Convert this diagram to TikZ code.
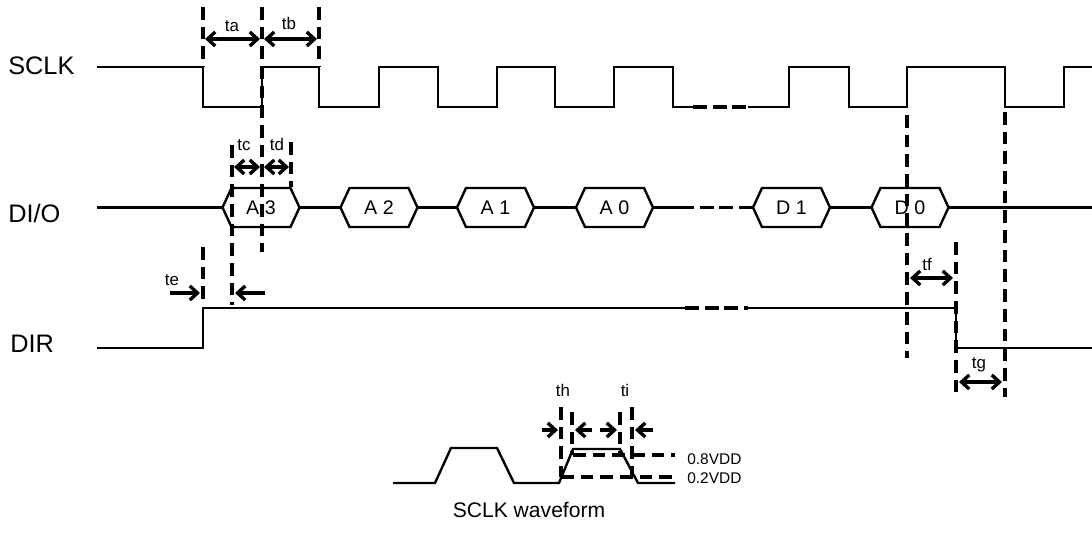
\documentclass[tikz,border=0pt]{standalone}
\usepackage{fontspec}
\setmainfont{Liberation Sans}
\usetikzlibrary{arrows.meta}

\begin{document}
\begin{tikzpicture}[
        x=0.025cm, y=-0.025cm,
        >={Straight Barb[length=5.5pt, width=10pt]},
        % Styles
        wave/.style={line width=1.7pt},
        guide/.style={line width=2.3pt, dash pattern=on 9pt off 5pt},
        gap/.style={line width=2.3pt, dash pattern=on 10pt off 4pt},
        timing/.style={line width=2.4pt},
        signame/.style={anchor=west, inner sep=0pt, font=\fontsize{18}{20}\selectfont},
        tlabel/.style={inner sep=0pt, font=\fontsize{12}{14}\selectfont},
        level/.style={anchor=west, inner sep=0pt, font=\fontsize{11}{13}\selectfont},
        hextext/.style={inner sep=0pt, font=\fontsize{14}{16}\selectfont},
        hexdata/.pic={
            \draw[wave] (-38.5,0) coordinate (-w) -- (-29.5,-19.5) -- (29.5,-19.5)
                -- (38.5,0) coordinate (-e) -- (29.5,19.5) -- (-29.5,19.5) -- cycle;
            \node[hextext] (-txt) {#1};
        }
    ]
    \useasboundingbox (0,0) rectangle (1092,537);

    % --- SIGNAL NAMES ---
    \node (sclk) [signame] at (8,66) {SCLK};
    \node (dio) [signame] at (8,213) {DI/O};
    \node (dir) [signame] at (10,344) {DIR};

    % --- SCLK ---
    \draw [wave] (97,67) -- (203,67) -- (203,107) -- (262,107) -- (262,67) -- (319,67)
        -- (319,107) -- (379,107) -- (379,67) -- (438,67) -- (438,107) -- (497,107)
        -- (497,67) -- (555,67) -- (555,107) -- (614,107) -- (614,67) -- (673,67)
        -- (673,107) -- (693,107);
    \draw [gap] (693,107) -- (748,107);   % skipped clocks
    \draw [wave] (748,107) -- (789,107) -- (789,67) -- (849,67) -- (849,107) -- (907,107)
        -- (907,67) -- (1005,67) -- (1005,107) -- (1064,107) -- (1064,67) -- (1092,67);

    % --- DI/O: data cells ---
    \pic (a3) at (261,207.5) {hexdata={A 3}};
    \pic (a2) at (379,207.5) {hexdata={A 2}};
    \pic (a1) at (495.5,207.5) {hexdata={A 1}};
    \pic (a0) at (614.5,207.5) {hexdata={A 0}};
    \pic (d1) at (791.5,207.5) {hexdata={D 1}};
    \pic (d0) at (910,207.5) {hexdata={D 0}};

    \draw [wave] (97,207.5) -- (a3-w);
    \draw [wave] (a3-e) -- (a2-w);
    \draw [wave] (a2-e) -- (a1-w);
    \draw [wave] (a1-e) -- (a0-w);
    \draw [wave] (a0-e) -- (680,207.5);
    \draw [gap] (680,207.5) -- (747,207.5);
    \draw [wave] (747,207.5) -- (d1-w);
    \draw [wave] (d1-e) -- (d0-w);
    \draw [wave] (d0-e) -- (1092,207.5);

    % --- DIR ---
    \draw [wave] (97,348) -- (203,348) -- (203,308) -- (685,308);
    \draw [gap] (685,308) -- (748,308);
    \draw [wave] (748,308) -- (956,308) -- (956,348) -- (1092,348);

    % --- GUIDE LINES ---
    \draw [guide] (203,7) -- (203,67);
    \draw [guide] (262,7) -- (262,252);
    \draw [guide] (319,7) -- (319,67);
    \draw [guide] (232,145) -- (232,305);
    \draw [guide] (291,142) -- (291,187);
    \draw [guide] (203,247) -- (203,303);
    \draw [guide] (907,115) -- (907,358);
    \draw [guide] (956,242) -- (956,398);
    \draw [guide] (1005,112) -- (1005,397);

    % --- TIMINGS ---
    \draw [timing, <->] (205,39) -- (260,39);
    \node (ta) [tlabel] at (232,26) {ta};
    \draw [timing, <->] (264,39) -- (317,39);
    \node (tb) [tlabel] at (289,23) {tb};
    \draw [timing, <->] (234,167) -- (260,167);
    \node (tc) [tlabel] at (244,145) {tc};
    \draw [timing, <->] (264,167) -- (289,167);
    \node (td) [tlabel] at (277,144) {td};
    \draw [timing, ->] (170,293) -- (200,293);
    \draw [timing, ->] (265,293) -- (235,293);
    \node (te) [tlabel] at (172,280) {te};
    \draw [timing, <->] (910,278) -- (953,278);
    \node (tf) [tlabel] at (927,264) {tf};
    \draw [timing, <->] (959,382) -- (1002,382);
    \node (tg) [tlabel] at (979,365) {tg};

    % --- SCLK WAVEFORM (edges) ---
    \draw [wave] (393,483) -- (435,483) -- (451,448) -- (497,448) -- (514,483)
        -- (559,483) -- (573,449) -- (620,449) -- (638,483) -- (675,483);
    \draw [guide] (573,455) -- (675,455);
    \draw [guide] (561,477) -- (675,477);
    \node (hi) [level] at (687,459) {0.8VDD};
    \node (lo) [level] at (687,478) {0.2VDD};

    \draw [guide] (561,407) -- (561,477);
    \draw [guide] (572,412) -- (572,455);
    \draw [guide] (620,412) -- (620,455);
    \draw [guide] (632,407) -- (632,477);
    \draw [timing, ->] (542,430) -- (558,430);
    \draw [timing, ->] (592,430) -- (575,430);
    \draw [timing, ->] (600,430) -- (617,430);
    \draw [timing, ->] (653,430) -- (635,430);
    \node (th) [tlabel] at (563,390) {th};
    \node (ti) [tlabel] at (625,390) {ti};

    \node (cap) [font=\fontsize{15}{17}\selectfont] at (529,510) {SCLK waveform};

\end{tikzpicture}
\end{document}
